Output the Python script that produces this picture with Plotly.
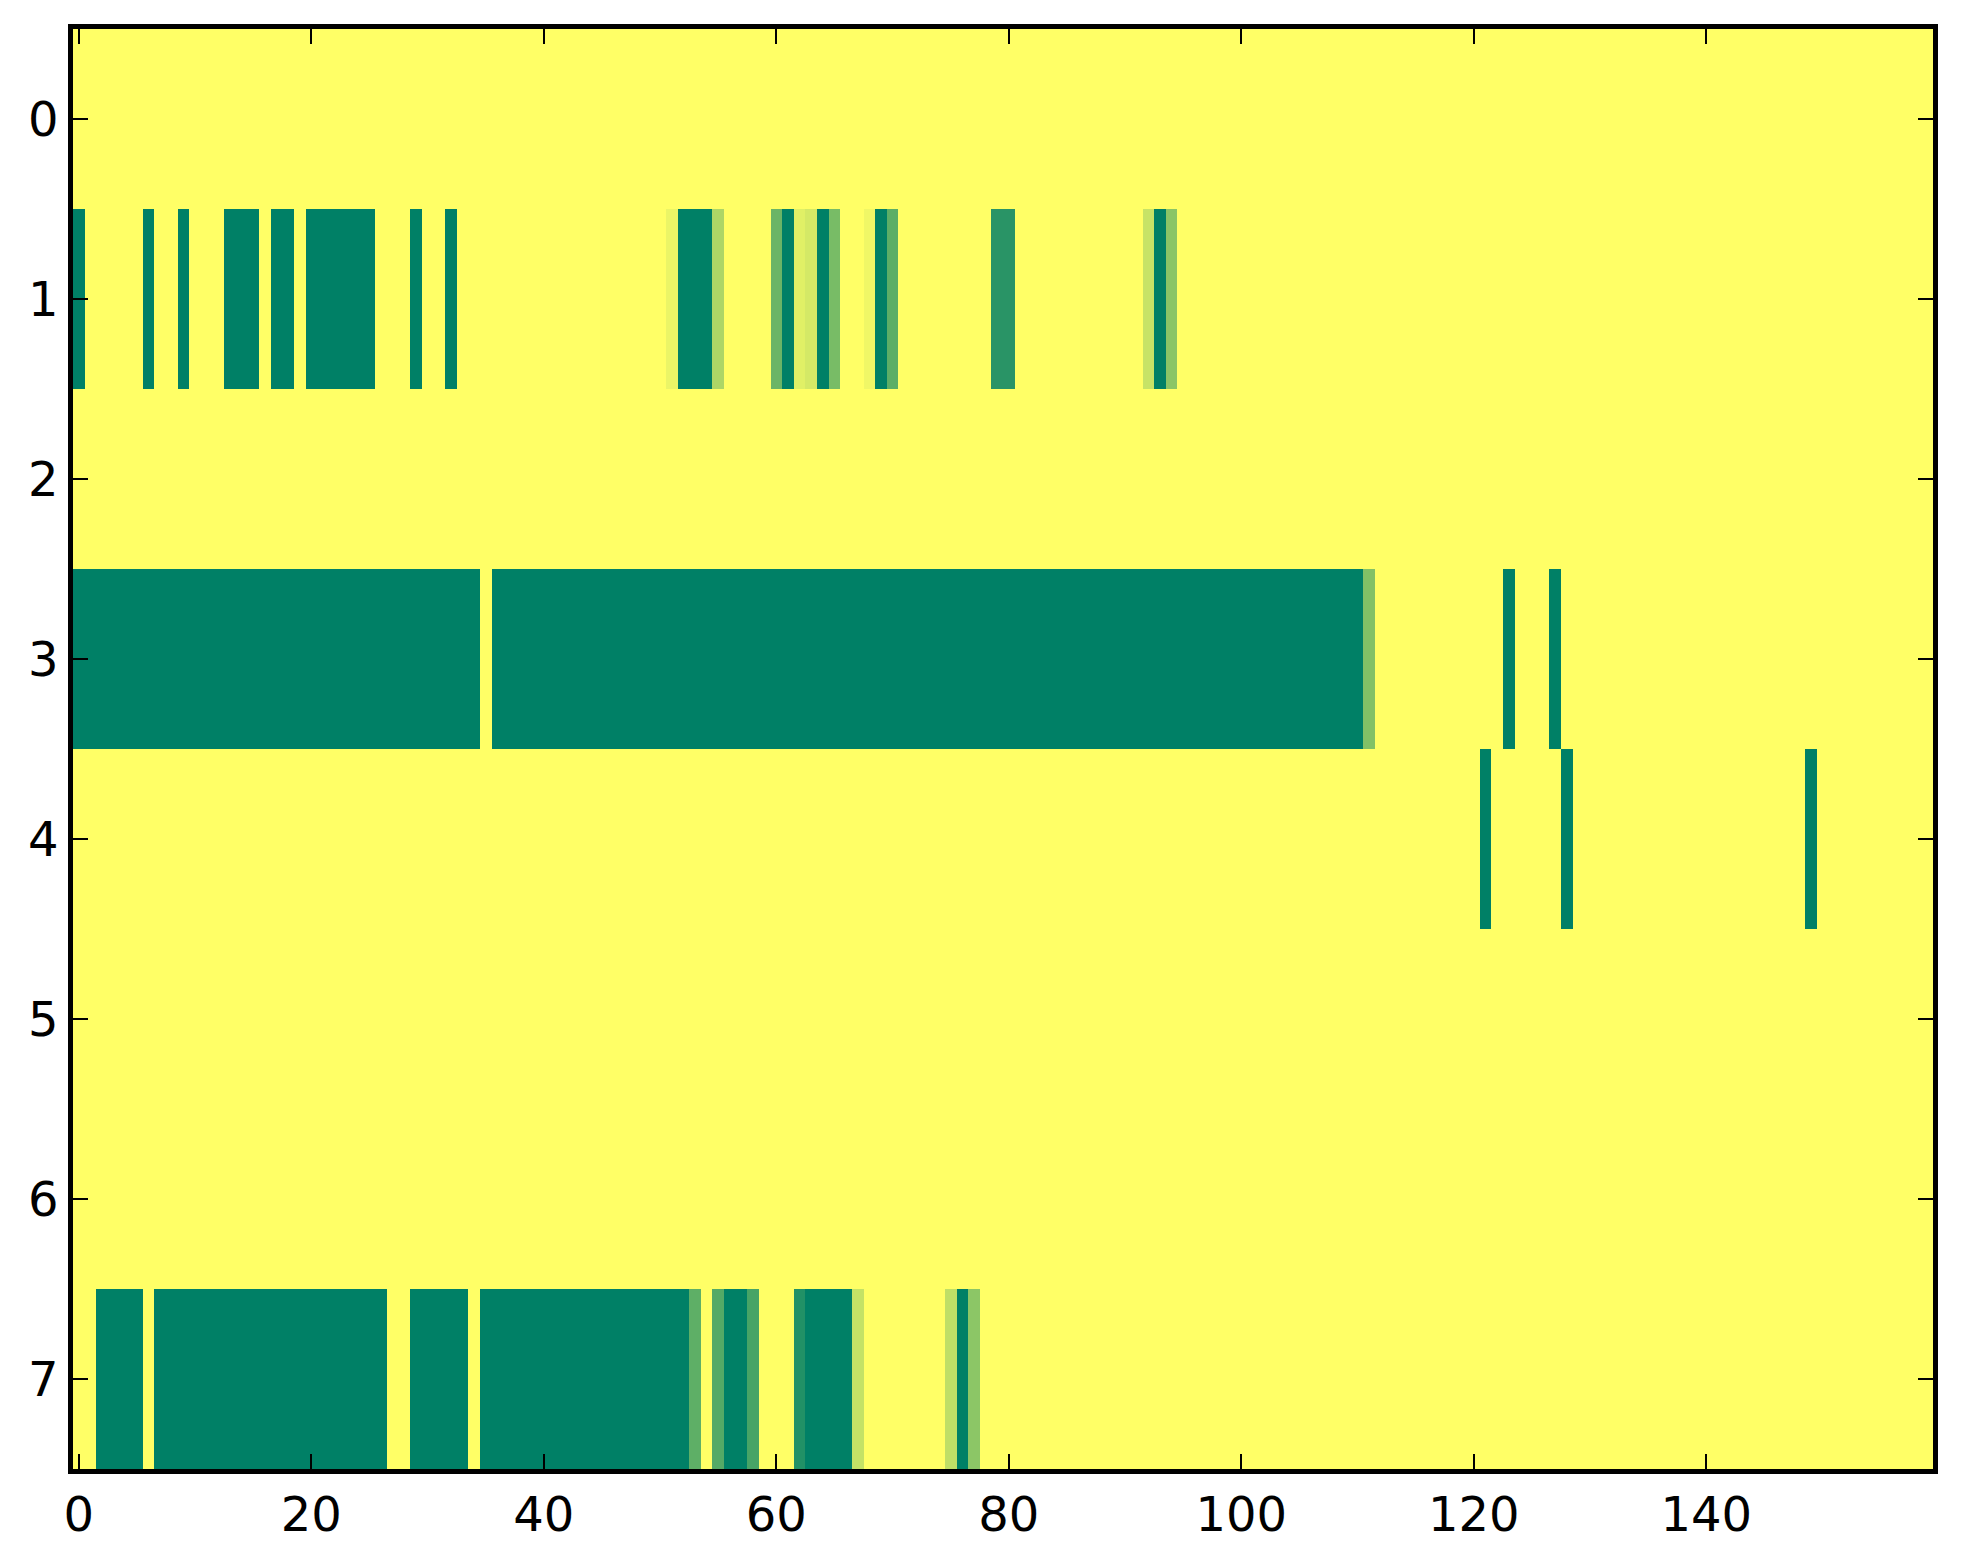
"""Occupancy-style heatmap, 8 rows x 160 columns, summer_r colours."""

import plotly.graph_objects as go

n_rows = 8
n_cols = 160

# columns at full value (1.0) per row
row1_full = [0, 6, 9, 13, 14, 15, 17, 18, 20, 21, 22, 23, 24, 25, 29, 32,
             52, 53, 54, 61, 64, 69, 93]
row3_full = list(range(0, 35)) + list(range(36, 111)) + [123, 127]
row4_full = [121, 128, 149]
row7_full = [2, 3, 4, 5] + list(range(7, 27)) + list(range(29, 34)) + \
    list(range(35, 53)) + [56, 57, 63, 64, 65, 66, 76]

# columns at partial values per row
row1_partial = {51: 0.08, 55: 0.32, 60: 0.58, 62: 0.12, 63: 0.17, 65: 0.53,
                68: 0.06, 70: 0.64, 79: 0.84, 80: 0.84, 92: 0.22, 94: 0.46}
row3_partial = {111: 0.49}
row7_partial = {53: 0.63, 55: 0.67, 58: 0.72, 62: 0.87, 67: 0.23,
                75: 0.25, 77: 0.45}

row_full = {1: row1_full, 3: row3_full, 4: row4_full, 7: row7_full}
row_partial = {1: row1_partial, 3: row3_partial, 7: row7_partial}

# build the grid
z = [[0.0] * n_cols for _ in range(n_rows)]
for r, cols in row_full.items():
    for c in cols:
        z[r][c] = 1.0
for r, vals in row_partial.items():
    for c, v in vals.items():
        z[r][c] = v

summer_r = [[0.0, 'rgb(255,255,102)'], [1.0, 'rgb(0,128,102)']]

fig = go.Figure(go.Heatmap(
    z=z,
    x=list(range(n_cols)),
    y=list(range(n_rows)),
    colorscale=summer_r,
    zmin=0, zmax=1,
    showscale=False,
    hoverinfo='skip'
))

axis_style = dict(
    showline=True, linecolor='black', linewidth=4.5,
    mirror='ticks', ticks='inside', ticklen=15, tickwidth=1.5,
    tickcolor='black', showgrid=False, zeroline=False,
    tickfont=dict(family='DejaVu Sans', size=48, color='black')
)

fig.update_xaxes(range=[-0.5, n_cols - 0.5], tickvals=list(range(0, 160, 20)),
                 **axis_style)
fig.update_yaxes(range=[n_rows - 0.5, -0.5], tickvals=list(range(n_rows)),
                 **axis_style)

# page body adds 8px around the figure
fig.update_layout(
    width=1947, height=1548,
    margin=dict(l=65, r=22, t=21, b=87),
    plot_bgcolor='white', paper_bgcolor='white',
    font=dict(family='DejaVu Sans')
)

fig.write_html('out.html', config={'displayModeBar': False})
